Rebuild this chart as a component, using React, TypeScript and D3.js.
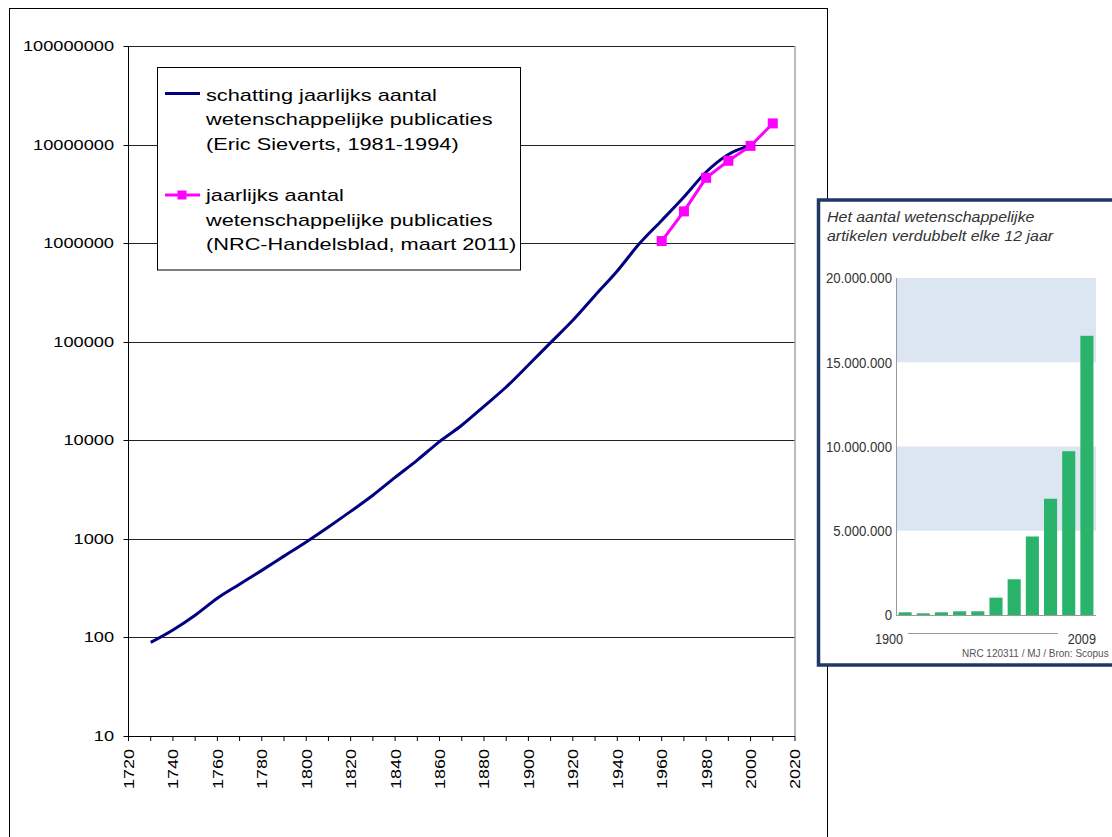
import React from 'react';
import * as d3 from 'd3';

// ---------- data ----------
const yTickValues = [10, 100, 1000, 10000, 100000, 1000000, 10000000, 100000000];
const xTickYears = [1720, 1730, 1740, 1750, 1760, 1770, 1780, 1790, 1800, 1810, 1820, 1830, 1840, 1850, 1860, 1870, 1880, 1890, 1900, 1910, 1920, 1930, 1940, 1950, 1960, 1970, 1980, 1990, 2000, 2010, 2020];
const xLabelYears = [1720, 1740, 1760, 1780, 1800, 1820, 1840, 1860, 1880, 1900, 1920, 1940, 1960, 1980, 2000, 2020];

const sievertsYears = [1730, 1740, 1750, 1760, 1770, 1780, 1790, 1800, 1810, 1820, 1830, 1840, 1850, 1860, 1870, 1880, 1890, 1900, 1910, 1920, 1930, 1940, 1950, 1960, 1970, 1980, 1990, 2000];
const sievertsValues = [89, 119, 168, 250, 346, 479, 668, 930, 1320, 1900, 2770, 4200, 6300, 9700, 14200, 22100, 34700, 58000, 98000, 165000, 295000, 522000, 990000, 1700000, 2940000, 5270000, 7940000, 9800000];

const nrcYears = [1960, 1970, 1980, 1990, 2000, 2010];
const nrcValues = [1050000, 2100000, 4600000, 6850000, 9700000, 16400000];

const legendSieverts = ['schatting jaarlijks aantal', 'wetenschappelijke publicaties', '(Eric Sieverts, 1981-1994)'];
const legendNrc = ['jaarlijks aantal', 'wetenschappelijke publicaties', '(NRC-Handelsblad, maart 2011)'];

// inset (newspaper graphic)
const insetTitle = ['Het aantal wetenschappelijke', 'artikelen verdubbelt elke 12 jaar'];
const insetBarIds = ['b1', 'b2', 'b3', 'b4', 'b5', 'b6', 'b7', 'b8', 'b9', 'b10', 'b11'];
const insetBarValues = [160000, 100000, 160000, 220000, 220000, 1030000, 2120000, 4660000, 6900000, 9720000, 16570000];
const insetTicks = [0, 5000000, 10000000, 15000000, 20000000];
const insetTickLabels = ['0', '5.000.000', '10.000.000', '15.000.000', '20.000.000'];
const insetBands = [[5000000, 10000000], [15000000, 20000000]];
const insetEndLabels = ['1900', '2009'];
const insetSource = 'NRC 120311 / MJ / Bron: Scopus';

const FONT = '"Liberation Sans", Arial, Helvetica, sans-serif';

function SText(props: any) {
  const { x, y, sx = 1, rot = 0, anchor = 'start', size, fill = '#000', dy, italic, children, family, weight } = props;
  return (
    <text
      transform={`translate(${x},${y}) rotate(${rot}) scale(${sx},1)`}
      textAnchor={anchor}
      fontSize={size}
      fill={fill}
      dy={dy}
      fontStyle={italic ? 'italic' : undefined}
      fontWeight={weight}
      fontFamily={family || FONT}
    >
      {children}
    </text>
  );
}

export default function App() {
  // main chart scales
  const x = d3.scaleLinear().domain([1720, 2020]).range([128.5, 795]);
  const y = d3.scaleLog().domain([10, 100000000]).range([736, 46]);
  const plotL = x(1720), plotR = x(2020), plotT = y(100000000), plotB = y(10);

  const blueLine = d3.line<number>()
    .x((_, i) => x(sievertsYears[i]))
    .y((d) => y(d))
    .curve(d3.curveMonotoneX)(sievertsValues) as string;
  const pinkLine = d3.line<number>()
    .x((_, i) => x(nrcYears[i]))
    .y((d) => y(d))(nrcValues) as string;

  // inset scales
  const ix = d3.scaleBand().domain(insetBarIds).range([896, 1096]).paddingInner(0.28).paddingOuter(0.14);
  const iy = d3.scaleLinear().domain([0, 20000000]).range([615, 278]);

  const yFmt = d3.format('d');

  return (
    <svg width={1112} height={837} style={{ position: 'absolute', left: 0, top: 0, background: '#fff' }}>
      {/* outer frame */}
      <rect x={9.5} y={8.5} width={818} height={840} fill="#fff" stroke="#000" strokeWidth={1} />

      {/* gridlines */}
      {yTickValues.slice(1).map((v) => (
        <line key={'g' + v} x1={plotL} x2={plotR} y1={Math.round(y(v)) + 0.5} y2={Math.round(y(v)) + 0.5} stroke="#222" strokeWidth={1} />
      ))}
      {/* right plot border */}
      <line x1={plotR} x2={plotR} y1={plotT} y2={plotB} stroke="#a6a6a6" strokeWidth={1.5} />

      {/* y axis */}
      <line x1={plotL} x2={plotL} y1={plotT} y2={plotB} stroke="#000" strokeWidth={1} />
      {yTickValues.map((v) => (
        <g key={'yt' + v}>
          <line x1={plotL - 5} x2={plotL} y1={Math.round(y(v)) + 0.5} y2={Math.round(y(v)) + 0.5} stroke="#000" />
          <SText x={114} y={y(v)} dy="0.36em" sx={1.3} anchor="end" size={14}>{yFmt(v)}</SText>
        </g>
      ))}

      {/* x axis */}
      <line x1={plotL} x2={plotR} y1={Math.round(plotB) + 0.5} y2={Math.round(plotB) + 0.5} stroke="#000" />
      {xTickYears.map((t) => (
        <line key={'xt' + t} x1={x(t)} x2={x(t)} y1={plotB} y2={plotB + 5} stroke="#000" />
      ))}
      {xLabelYears.map((t) => (
        <SText key={'xl' + t} x={x(t)} y={749} rot={-90} sx={1.2} anchor="end" dy="0.36em" size={15}>{String(t)}</SText>
      ))}

      {/* series */}
      <path d={blueLine} fill="none" stroke="#000080" strokeWidth={3} strokeLinejoin="round" />
      <path d={pinkLine} fill="none" stroke="#ff00ff" strokeWidth={3} />
      {nrcValues.map((v, i) => (
        <rect key={'m' + i} x={x(nrcYears[i]) - 5} y={y(v) - 5} width={10} height={10} fill="#ff00ff" />
      ))}

      {/* legend */}
      <rect x={157.5} y={67.5} width={363} height={202.5} fill="#fff" stroke="#000" strokeWidth={1} />
      <line x1={165} x2={200} y1={93.5} y2={93.5} stroke="#000080" strokeWidth={3} />
      {legendSieverts.map((s, i) => (
        <SText key={'ls' + i} x={206} y={100.5 + i * 24.6} sx={1.28} size={17}>{s}</SText>
      ))}
      <line x1={165} x2={200} y1={195} y2={195} stroke="#ff00ff" strokeWidth={3} />
      <rect x={177.5} y={190.5} width={9} height={9} fill="#ff00ff" />
      {legendNrc.map((s, i) => (
        <SText key={'ln' + i} x={206} y={201 + i * 24.6} sx={1.28} size={17}>{s}</SText>
      ))}

      {/* inset graphic */}
      <rect x={818.5} y={200} width={310} height={465} fill="#fff" stroke="#1f3864" strokeWidth={3.5} />
      {insetTitle.map((s, i) => (
        <SText key={'it' + i} x={827} y={222 + i * 18.5} sx={1.03} size={15.5} italic fill="#333">{s}</SText>
      ))}
      {insetBands.map((b, i) => (
        <rect key={'band' + i} x={896} y={iy(b[1])} width={200} height={iy(b[0]) - iy(b[1])} fill="#dce6f2" />
      ))}
      <line x1={896.5} x2={896.5} y1={iy(20000000)} y2={iy(0)} stroke="#9a9a9a" strokeWidth={1} />
      <line x1={896} x2={1096} y1={iy(0) + 0.5} y2={iy(0) + 0.5} stroke="#9a9a9a" strokeWidth={1} />
      {insetTicks.map((t, i) => (
        <SText key={'iyt' + i} x={892} y={iy(t)} dy="0.36em" anchor="end" size={15} sx={0.88} fill="#333">{insetTickLabels[i]}</SText>
      ))}
      {insetBarValues.map((v, i) => (
        <rect key={'ib' + i} x={ix(insetBarIds[i])} y={iy(v)} width={ix.bandwidth()} height={iy(0) - iy(v)} fill="#2ab36a" />
      ))}
      <SText x={889} y={643.5} anchor="middle" size={15.5} sx={0.82} fill="#333">{insetEndLabels[0]}</SText>
      <SText x={1096} y={643.5} anchor="end" size={15.5} sx={0.82} fill="#333">{insetEndLabels[1]}</SText>
      <line x1={908} x2={1058} y1={633.5} y2={633.5} stroke="#999" strokeWidth={1} />
      <SText x={962} y={657} size={10.5} sx={0.95} fill="#555">{insetSource}</SText>
    </svg>
  );
}
